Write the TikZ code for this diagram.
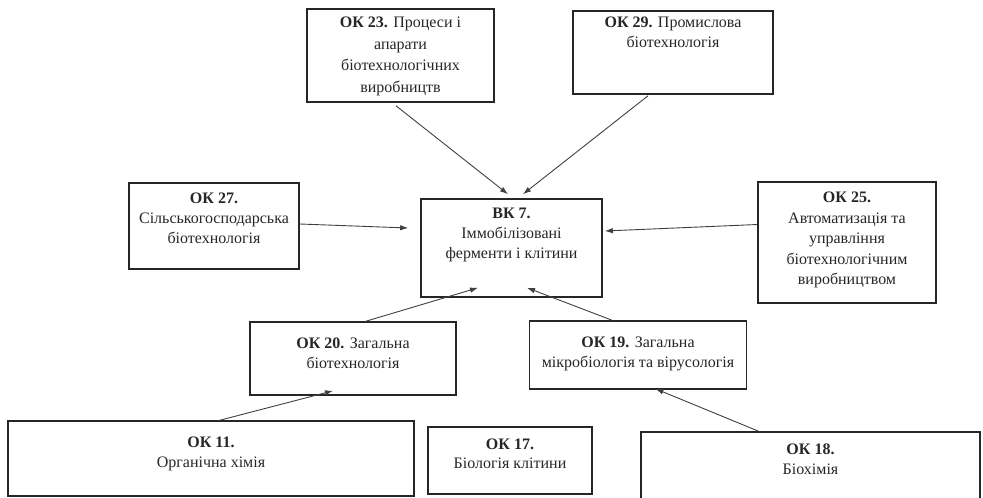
\documentclass[tikz,border=0pt]{standalone}
\usepackage{fontspec}
\setmainfont{Liberation Serif}
\usepackage{xcolor}
\usepackage{tikz}
\usetikzlibrary{arrows.meta,positioning}

\begin{document}
\begin{tikzpicture}[
  x=1pt, y=-1pt,
  box/.style={draw=black!85, line width=1.6pt, inner sep=0pt},
  txt/.style={align=center, inner sep=0pt, text=black!85, font=\fontsize{16}{20}\selectfont},
  arr/.style={-{Latex[length=8pt,width=5.5pt]}, line width=0.9pt, draw=black!75},
]
\useasboundingbox (0,0) rectangle (983,498);
% верхній ряд
\node[box, minimum width=187pt, minimum height=93pt] (ok23) at (400.5,55.5) {};
\node[txt, below=9pt of ok23.north, font=\fontsize{16}{21.5}\selectfont] (ok23t) {\textbf{ОК 23.} Процеси і\\апарати\\біотехнологічних\\виробництв};
\node[box, minimum width=200pt, minimum height=83pt] (ok29) at (673,52.5) {};
\node[txt, below=7pt of ok29.north] (ok29t) {\textbf{ОК 29.} Промислова\\біотехнологія};
% середній ряд
\node[box, minimum width=170pt, minimum height=86pt] (ok27) at (214,226) {};
\node[txt, below=11pt of ok27.north] (ok27t) {\textbf{ОК 27.}\\Сільськогосподарська\\біотехнологія};
\node[box, minimum width=181pt, minimum height=98pt] (vk7) at (511.5,248) {};
\node[txt, below=10pt of vk7.north] (vk7t) {\textbf{ВК 7.}\\Іммобілізовані\\ферменти і клітини};
\node[box, minimum width=178pt, minimum height=121pt] (ok25) at (847,242.5) {};
\node[txt, below=11pt of ok25.north, font=\fontsize{16}{20.5}\selectfont] (ok25t) {\textbf{ОК 25.}\\Автоматизація та\\управління\\біотехнологічним\\виробництвом};
% нижні ряди
\node[box, minimum width=206pt, minimum height=73pt] (ok20) at (353,358.5) {};
\node[txt, below=16pt of ok20.north] (ok20t) {\textbf{ОК 20.} Загальна\\біотехнологія};
\node[box, minimum width=217pt, minimum height=68pt] (ok19) at (638,355) {};
\node[txt, below=16pt of ok19.north] (ok19t) {\textbf{ОК 19.} Загальна\\мікробіологія та вірусологія};
\node[box, minimum width=406pt, minimum height=75pt] (ok11) at (211,458.5) {};
\node[txt, below=17pt of ok11.north] (ok11t) {\textbf{ОК 11.}\\Органічна хімія};
\node[box, minimum width=164pt, minimum height=67pt] (ok17) at (510,460.5) {};
\node[txt, below=12pt of ok17.north] (ok17t) {\textbf{ОК 17.}\\Біологія клітини};
\node[box, minimum width=339pt, minimum height=78pt] (ok18) at (810.5,471) {};
\node[txt, below=12pt of ok18.north] (ok18t) {\textbf{ОК 18.}\\Біохімія};
% стрілки
\draw[arr] ([xshift=-4.5pt,yshift=-3pt]ok23.south) -- ([xshift=-3.5pt,yshift=4pt]vk7.north);
\draw[arr] ([xshift=-25pt,yshift=-1pt]ok29.south) -- ([xshift=11.5pt,yshift=4pt]vk7.north);
\draw[arr] ([yshift=2pt]ok27.east) -- ([xshift=-12pt,yshift=20pt]vk7.west);
\draw[arr] ([yshift=18pt]ok25.west) -- ([xshift=2pt,yshift=17pt]vk7.east);
\draw[arr] ([xshift=13pt]ok20.north) -- ([xshift=-33.5pt,yshift=10pt]vk7.south);
\draw[arr] ([xshift=-26pt]ok19.north) -- ([xshift=15.5pt,yshift=10pt]vk7.south);
\draw[arr] ([xshift=9pt]ok11.north) -- ([xshift=-20pt,yshift=5pt]ok20.south);
\draw[arr] ([xshift=-52pt]ok18.north) -- ([xshift=17.5pt,yshift=1pt]ok19.south);
\end{tikzpicture}
\end{document}
